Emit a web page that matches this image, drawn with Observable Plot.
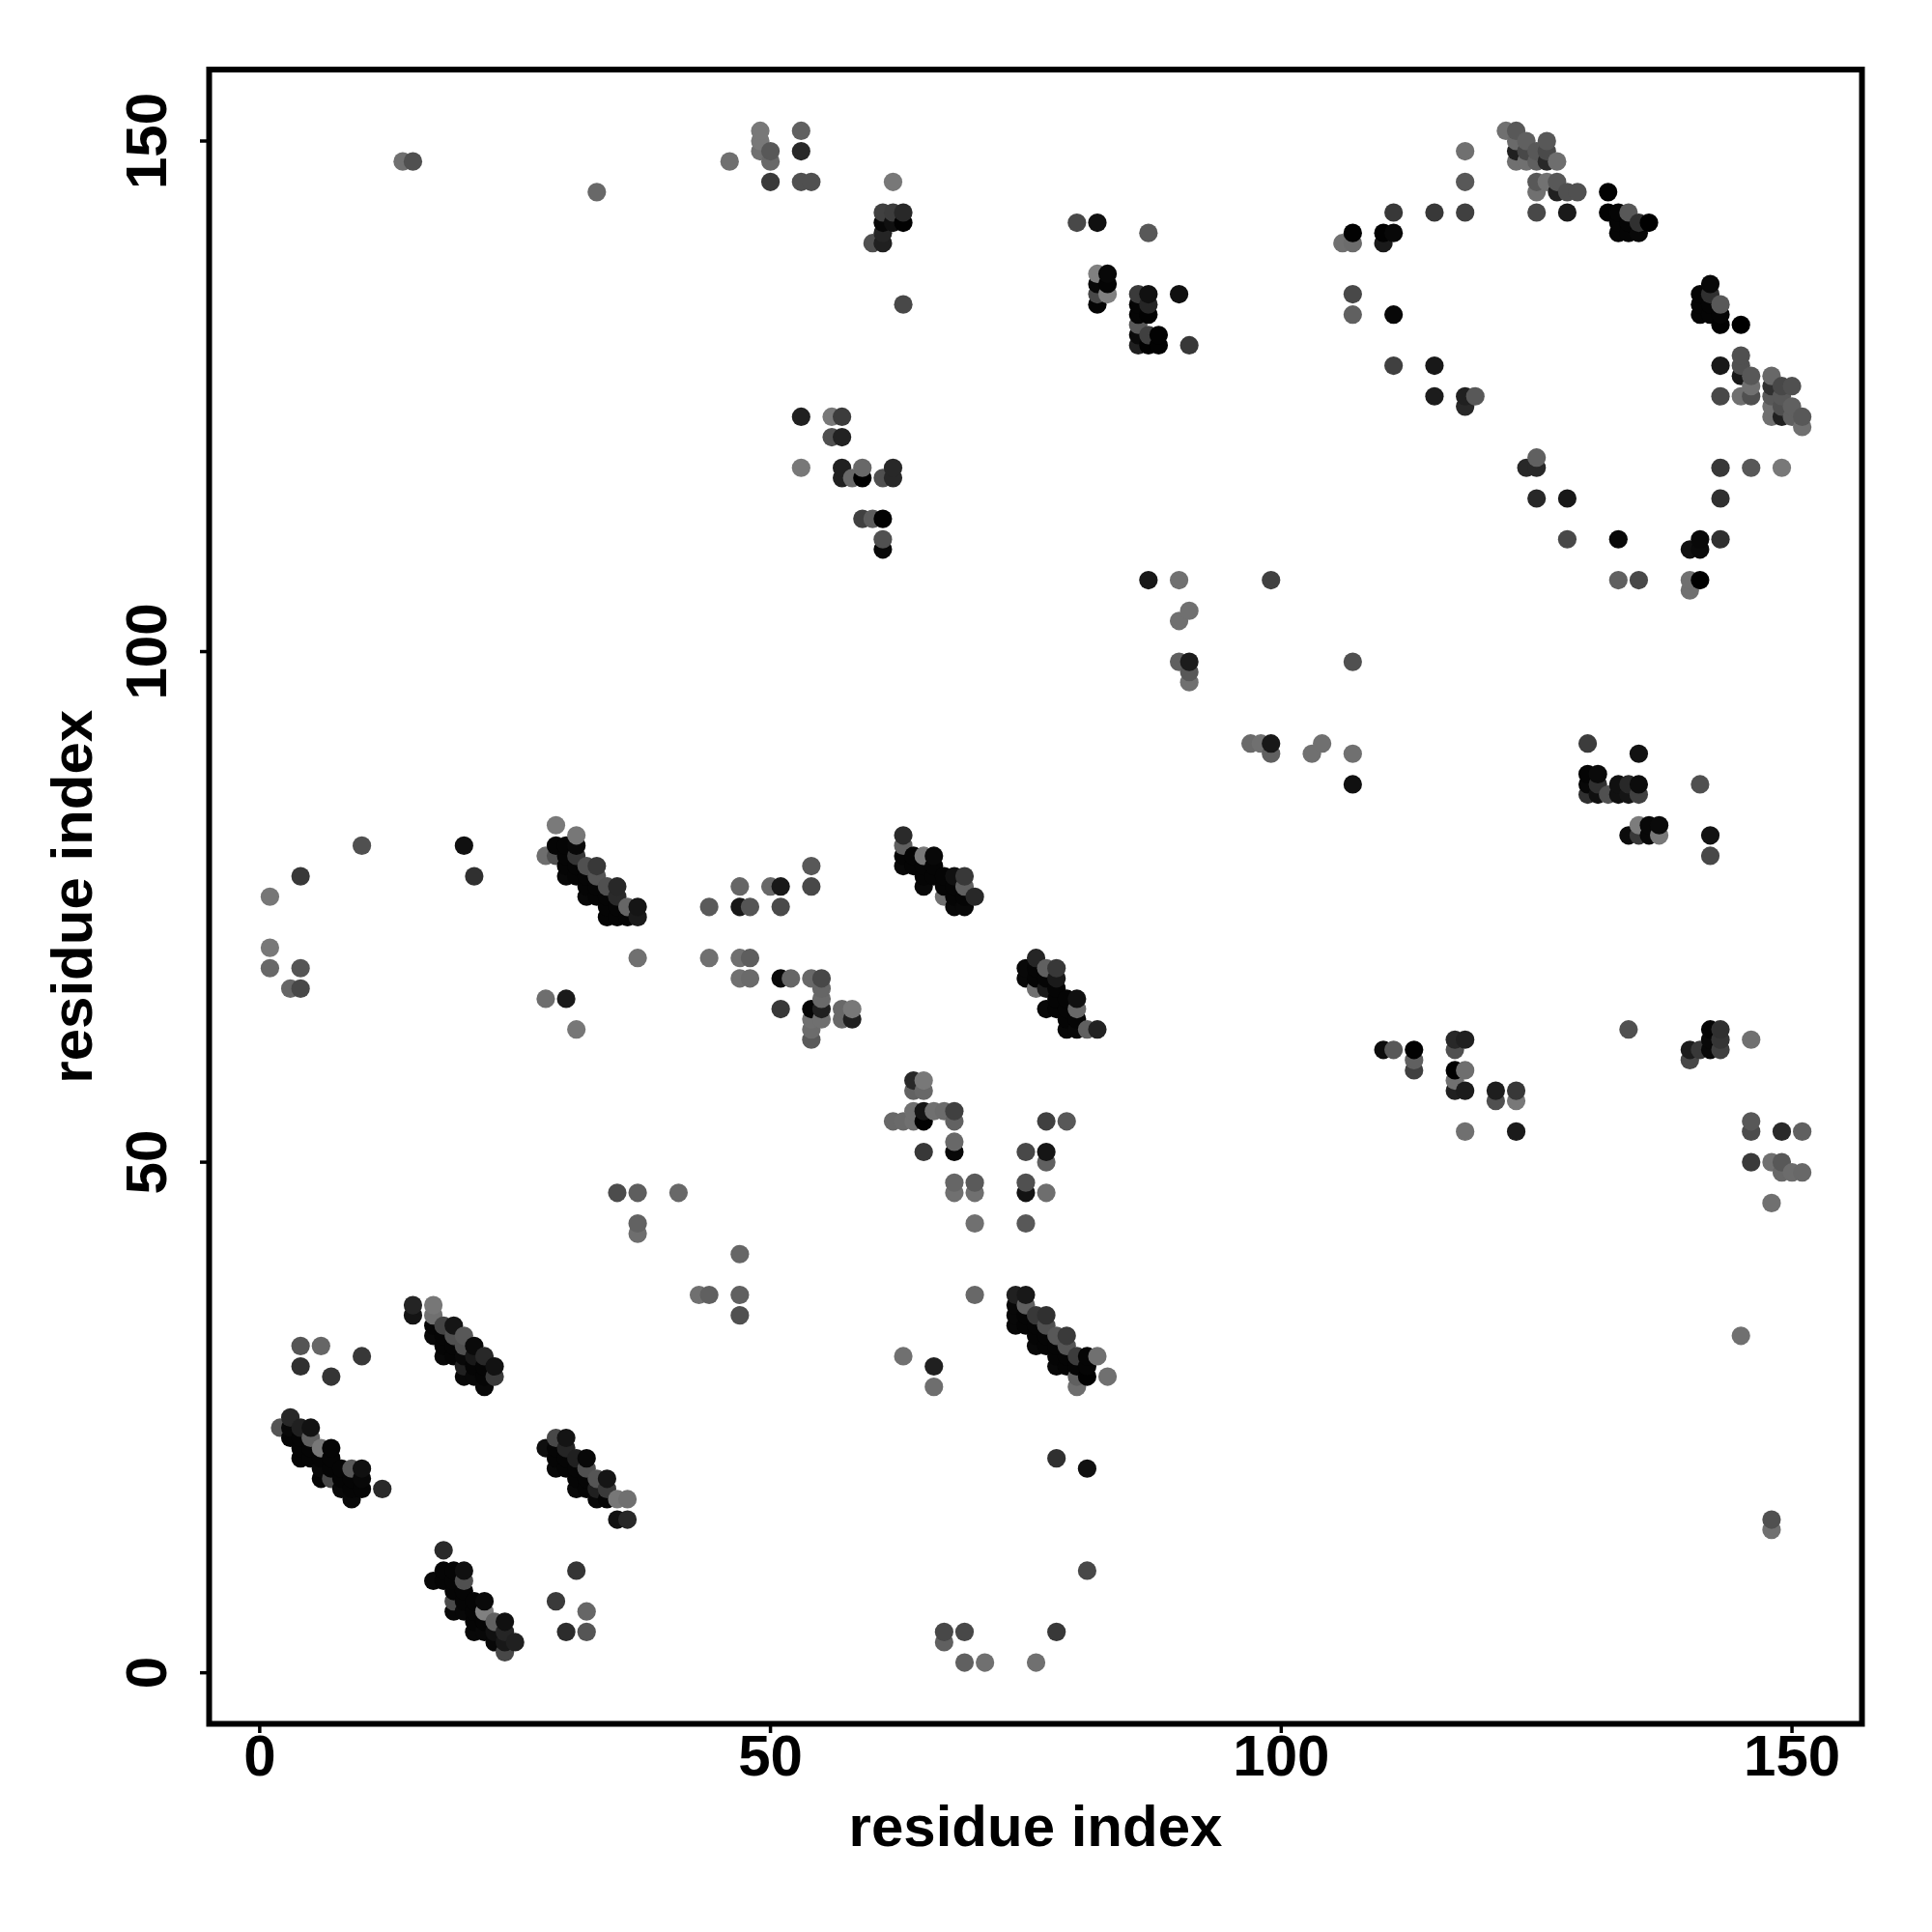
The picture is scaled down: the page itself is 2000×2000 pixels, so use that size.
<!DOCTYPE html>
<html>
<head>
<meta charset="utf-8">
<script src="https://cdn.jsdelivr.net/npm/d3@7"></script>
<script src="https://cdn.jsdelivr.net/npm/@observablehq/plot@0.6"></script>
<style>html,body{margin:0;padding:0;background:#fff}svg{display:block}</style>
</head>
<body>
<div id="chart"></div>
<script>
const axisTitle = "residue index";
const tickValues = [0, 50, 100, 150];
// each contact: [residue x, residue y, grey level]
const blockA = [[2,24,0x55],[3,25,0x28],[3,24,8],[3,23,5],[4,24,0x20],[4,23,5],[4,22,5],[4,21,5],[5,24,0x12],[5,23,0x60],[5,22,5],[5,21,5],[6,22,0x78],[6,21,5],[6,20,8],[6,19,5],[7,22,5],[7,21,5],[7,20,5],[7,19,0x48],[8,20,5],[8,19,5],[8,18,8],[9,20,0x58],[9,19,5],[9,18,5],[9,17,8],[10,20,0x10],[10,19,8],[10,18,5],[12,18,0x2a]];
const blockB = [[15,36,0x24],[15,35,0x14],[17,36,0x77],[17,35,0x70],[17,34,5],[17,33,8],[18,34,0x44],[18,33,5],[18,32,5],[18,31,8],[19,34,0x15],[19,33,0x50],[19,32,5],[19,31,5],[20,33,0x58],[20,32,0x50],[20,31,8],[20,30,0x20],[20,29,8],[21,32,0x0a],[21,31,0x18],[21,30,5],[21,29,8],[22,31,0x28],[22,30,5],[22,29,5],[22,28,8],[23,30,0x12],[23,29,0x3a]];
const blockC = [[28,22,0x0e],[29,23,0x48],[29,22,5],[29,21,5],[29,20,8],[30,23,0x14],[30,22,0x25],[30,21,5],[30,20,5],[31,21,0x20],[31,20,5],[31,19,5],[31,18,8],[32,21,8],[32,20,0x50],[32,19,5],[32,18,5],[33,19,0x55],[33,18,0x20],[33,17,8],[34,19,0x15],[34,18,0x3a],[34,17,5],[35,17,0x77],[35,15,0x12],[36,17,0x70],[36,15,0x28]];
const blockD = [[17,9,8],[18,12,0x2a],[18,10,5],[18,9,5],[19,10,5],[19,9,5],[19,8,5],[19,7,0x4a],[19,6,8],[20,10,0x10],[20,9,0x50],[20,8,5],[20,7,5],[20,6,8],[21,7,5],[21,6,5],[21,5,5],[21,4,8],[22,7,0x0a],[22,6,0x80],[22,5,5],[22,4,8],[23,5,0x60],[23,4,0x10],[23,3,8],[24,5,0x10],[24,4,0x25],[24,3,0x18],[24,2,0x48],[25,3,0x20]];
const blockE = [[28,80,0x6e],[29,83,0x7a],[29,81,5],[29,80,0x50],[30,81,5],[30,80,5],[30,79,5],[30,78,8],[31,82,0x77],[31,81,8],[31,80,0x35],[31,79,5],[31,78,5],[32,79,0x50],[32,78,5],[32,77,5],[32,76,8],[33,79,0x38],[33,78,0x55],[33,77,5],[33,76,5],[34,77,0x50],[34,76,5],[34,75,5],[34,74,5],[35,77,0x28],[35,76,0x2a],[35,75,5],[35,74,5],[36,75,0x66],[36,74,5],[37,75,0x15],[37,74,0x1a]];
const blockF = [[63,82,0x2a],[63,81,0x60],[63,80,5],[63,79,8],[64,80,5],[64,79,5],[65,80,0x78],[65,79,5],[65,78,5],[65,77,8],[66,80,8],[66,79,5],[66,78,5],[67,78,5],[67,77,5],[67,76,0x70],[68,78,0x10],[68,77,5],[68,76,5],[68,75,8],[69,78,0x38],[69,77,0x60],[69,76,5],[69,75,8],[70,76,0x28]];
const blockG = [[75,69,8],[75,68,8],[76,70,0x25],[76,69,5],[76,68,5],[76,67,0x70],[77,69,0x60],[77,68,5],[77,67,0x1a],[77,65,8],[78,69,0x38],[78,68,0x1a],[78,67,5],[78,66,5],[78,65,5],[79,66,5],[79,65,5],[79,64,5],[79,63,8],[80,66,0x10],[80,65,0x68],[80,64,5],[80,63,8],[81,63,0x60],[82,63,0x22]];
const blockH = [[74,37,0x20],[74,36,8],[74,35,8],[74,34,8],[75,37,0x18],[75,36,0x60],[75,35,5],[75,34,5],[76,35,0x38],[76,34,5],[76,33,5],[76,32,8],[77,35,0x30],[77,34,0x50],[77,33,5],[77,32,5],[78,33,0x58],[78,32,5],[78,31,5],[78,30,8],[79,33,0x3a],[79,32,0x55],[79,31,5],[79,30,5],[80,31,0x3c],[80,30,5],[80,29,0x60],[80,28,0x6e],[81,31,5],[81,30,5],[81,29,2],[82,31,0x70],[83,29,0x70]];
const scatterLow = [[4,32,0x55],[6,32,0x66],[4,30,0x30],[7,29,0x35],[10,31,0x38],[31,10,0x35],[29,7,0x3a],[32,6,0x66],[30,4,0x2c],[32,4,0x55],[35,47,0x4c],[37,47,0x5e],[41,47,0x68],[37,44,0x62],[37,43,0x6e],[43,37,0x70],[44,37,0x60],[47,37,0x60],[47,35,0x50],[47,41,0x66],[63,31,0x70],[66,30,0x20],[66,28,0x6e],[70,37,0x68],[78,21,0x30],[81,20,0x10],[81,10,0x48],[67,4,0x48],[69,4,0x48],[67,3,0x60],[69,1,0x60],[71,1,0x70],[76,1,0x70],[78,4,0x38],[145,33,0x70],[148,15,0x50],[148,14,0x70]];
const scatterMid = [[10,81,0x50],[20,81,0x10],[4,78,0x38],[21,78,0x30],[1,76,0x77],[1,71,0x78],[1,69,0x68],[4,69,0x55],[3,67,0x66],[4,67,0x48],[37,70,0x70],[28,66,0x6e],[30,66,0x1a],[31,63,0x77],[54,79,0x58],[47,77,0x66],[50,77,0x68],[51,77,0x18],[54,77,0x48],[44,75,0x5a],[47,75,0x18],[48,75,0x55],[51,75,0x4a],[44,70,0x70],[47,70,0x70],[48,70,0x5e],[47,68,0x70],[48,68,0x6a],[51,68,0x0a],[52,68,0x66],[54,68,0x68],[55,68,0x48],[55,67,0x66],[55,66,0x6a],[51,65,0x38],[54,65,5],[55,65,0x20],[55,64,0x70],[54,64,0x70],[54,63,0x6c],[54,62,0x5a],[57,65,0x68],[58,65,0x78],[57,64,0x68],[58,64,0x20]];
const scatterCore = [[64,58,0x28],[65,58,0x78],[64,57,0x62],[65,57,0x68],[62,54,0x68],[63,54,0x6a],[64,55,0x70],[64,54,0x70],[65,55,0x15],[65,54,2],[66,55,0x70],[67,55,0x6c],[68,55,0x40],[68,54,0x62],[68,52,0x68],[68,51,8],[65,51,0x38],[77,54,0x40],[79,54,0x58],[75,51,0x48],[77,51,0x15],[77,50,0x60],[68,48,0x66],[70,48,0x5a],[68,47,0x70],[70,47,0x70],[75,48,0x50],[75,47,0x12],[77,47,0x6e],[70,44,0x70],[75,44,0x58]];
const scatterTop = [[14,148,0x70],[15,148,0x50],[33,145,0x68],[46,148,0x70],[49,151,0x78],[49,150,0x78],[49,149,0x70],[50,149,0x58],[50,148,0x68],[53,151,0x60],[53,149,0x28],[50,146,0x3a],[53,146,0x50],[54,146,0x50],[62,146,0x78],[61,143,0x40],[62,143,0x3c],[63,143,0x28],[61,142,8],[62,142,0x10],[63,142,2],[61,141,0x25],[60,140,0x50],[61,140,0x20],[63,134,0x48],[53,123,0x20],[56,123,0x78],[57,123,0x3c],[56,121,0x50],[57,121,0x22],[53,118,0x78],[57,118,0x20],[57,117,0x20],[58,117,0x68],[59,118,0x68],[59,117,0],[61,117,0x50],[62,118,0x28],[62,117,0x28],[59,113,0x40],[60,113,0x5c],[61,113,2],[61,111,0x50],[61,110,8]];
const scatterUpperMid = [[80,142,0x48],[82,142,0x10],[87,141,0x58],[82,137,0x80],[83,137,8],[82,136,8],[83,136,5],[82,135,0x48],[83,135,0x80],[82,134,5],[86,135,0x3a],[87,135,0x10],[86,134,5],[87,134,0x25],[86,133,5],[87,133,2],[86,132,0x58],[86,131,0x0a],[87,131,0x40],[88,131,2],[86,130,0x20],[87,130,2],[88,130,2],[90,135,0x10],[91,130,0x38],[87,107,0x18],[90,107,0x70],[90,103,0x70],[91,104,0x70],[90,99,0x60],[91,99,0x1c],[91,98,0x58],[91,97,0x70],[99,107,0x40],[97,91,0x6a],[98,91,0x70],[99,91,0x18],[99,90,0x60],[103,90,0x70],[104,91,0x70],[107,90,0x70],[107,87,0x10],[107,99,0x50]];
const arcUpper = [[107,141,2],[106,140,0x70],[107,140,0x6c],[110,141,2],[111,141,8],[110,140,0x1a],[111,143,0x38],[115,143,0x38],[118,143,0x40],[118,146,0x58],[118,149,0x70],[107,135,0x48],[107,133,0x60],[111,133,8],[111,128,0x40],[115,128,0x18],[115,125,0x1c],[118,125,0x20],[119,125,0x58],[118,124,0x28],[122,151,0x70],[123,151,0x58],[124,150,0x60],[126,150,0x58],[123,150,0x6a],[123,149,0x20],[124,149,0x48],[125,149,0x58],[126,149,0x4a],[123,148,0x70],[124,148,0x70],[125,148,0x60],[126,148,0x28],[127,148,0x6e],[125,146,0x58],[126,146,0x72],[127,146,0x58],[125,145,0x70],[127,145,0x20],[128,145,0x50],[129,145,0x50],[125,143,0x48],[128,143,0x1a],[132,145,2],[132,143,2],[133,143,5],[134,143,0x58],[133,142,5],[134,142,5],[135,142,0x30],[136,142,0],[133,141,5],[134,141,5],[135,141,8],[124,118,0x28],[125,119,0x60],[125,118,0x28],[125,115,0x28]];
const arcRight = [[142,136,8],[141,135,5],[142,135,0x30],[141,134,5],[142,134,5],[143,134,0x58],[141,133,5],[142,133,5],[143,133,5],[143,132,2],[145,132,0],[145,129,0x50],[145,128,0x50],[143,128,0x18],[145,127,0x18],[146,127,0x58],[146,126,0x70],[146,125,0x50],[145,125,0x70],[143,125,0x48],[148,127,0x68],[148,126,0x30],[149,126,0x48],[150,126,0x50],[148,125,0x58],[149,125,0x58],[148,124,0x70],[149,124,0x50],[150,124,0x60],[148,123,0x70],[149,123,0x20],[150,123,0x60],[151,123,0x58],[151,122,0x70],[143,118,0x38],[146,118,0x58],[149,118,0x78],[143,115,0x30],[128,115,0x18],[128,111,0x48],[133,111,8],[141,111,8],[143,111,0x30],[140,110,0x10],[141,110,0x0a],[133,107,0x60],[135,107,0x48],[140,107,0x70],[141,107,0],[140,106,0x70]];
const blockJ = [[130,91,0x3c],[135,90,0x12],[130,88,5],[131,88,0x0a],[130,87,8],[131,87,0x30],[130,86,0x30],[131,86,0x10],[132,86,0x50],[133,87,0x10],[134,87,0x28],[135,87,0x0c],[133,86,0x10],[134,86,0x15],[135,86,0x40],[141,87,0x50],[134,82,0x0c],[135,83,0x7c],[136,83,8],[137,83,0x0a],[135,82,0x38],[136,82,8],[137,82,0x78],[142,82,0x12],[142,80,0x48]];
const blockK = [[110,61,0x0c],[111,61,0x58],[113,61,2],[113,60,0x60],[113,59,0x40],[117,62,0x28],[118,62,0x20],[117,61,0x50],[117,59,0],[118,59,0x6e],[117,58,0x70],[117,57,0x20],[118,57,0x1c],[121,57,0x1e],[123,57,0x38],[121,56,0x50],[123,56,0x78],[118,53,0x70],[123,53,0x1a],[134,63,0x50],[142,63,5],[143,63,0x30],[142,62,8],[143,62,0x35],[142,61,8],[143,61,0x40],[140,61,0x1c],[141,61,0x38],[140,60,0x48],[146,62,0x70],[146,54,0x58],[146,53,0x4c],[149,53,0x2a],[151,53,0x60],[146,50,0x3a],[148,50,0x70],[149,50,0x58],[149,49,0x68],[150,49,0x6c],[151,49,0x68],[148,46,0x70]];

const contacts = d3.sort(
  [blockA, blockB, blockC, blockD, blockE, blockF, blockG, blockH, scatterLow, scatterMid, scatterCore, scatterTop, scatterUpperMid, arcUpper, arcRight, blockJ, blockK].flat(),
  d => d[0], d => d[1]
);

const chart = Plot.plot({
  width: 2000, height: 2000,
  marginLeft: 216, marginRight: 73, marginTop: 71.5, marginBottom: 216,
  style: {fontFamily: "'Liberation Sans', Arial, sans-serif", fontWeight: "bold", fontSize: "60px", color: "#000", background: "#fff"},
  x: {domain: [-4.95, 156.85]},
  y: {domain: [-5, 157]},
  color: {type: "linear", domain: [0, 255], range: ["#000000", "#ffffff"]},
  marks: [
    Plot.dot(contacts, {x: d => d[0], y: d => d[1], fill: d => d[2], r: 9.6}),
    Plot.axisX({ticks: tickValues, tickSize: 10, strokeWidth: 3.5, stroke: "#000", text: null, label: null}),
    Plot.axisY({ticks: tickValues, tickSize: 9, strokeWidth: 3.5, stroke: "#000", text: null, label: null}),
    Plot.axisX({ticks: tickValues, tickSize: 0, tickPadding: 11, fontSize: 60, label: axisTitle, labelAnchor: "center", labelArrow: "none", labelOffset: 126}),
    Plot.axisY({ticks: tickValues, tickSize: 0, tickPadding: 45, fontSize: 60, tickRotate: -90, textAnchor: "middle", label: axisTitle, labelAnchor: "center", labelArrow: "none", labelOffset: 164}),
    Plot.frame({stroke: "#000", strokeWidth: 6})
  ]
});
document.getElementById("chart").append(chart);
</script>
</body>
</html>
